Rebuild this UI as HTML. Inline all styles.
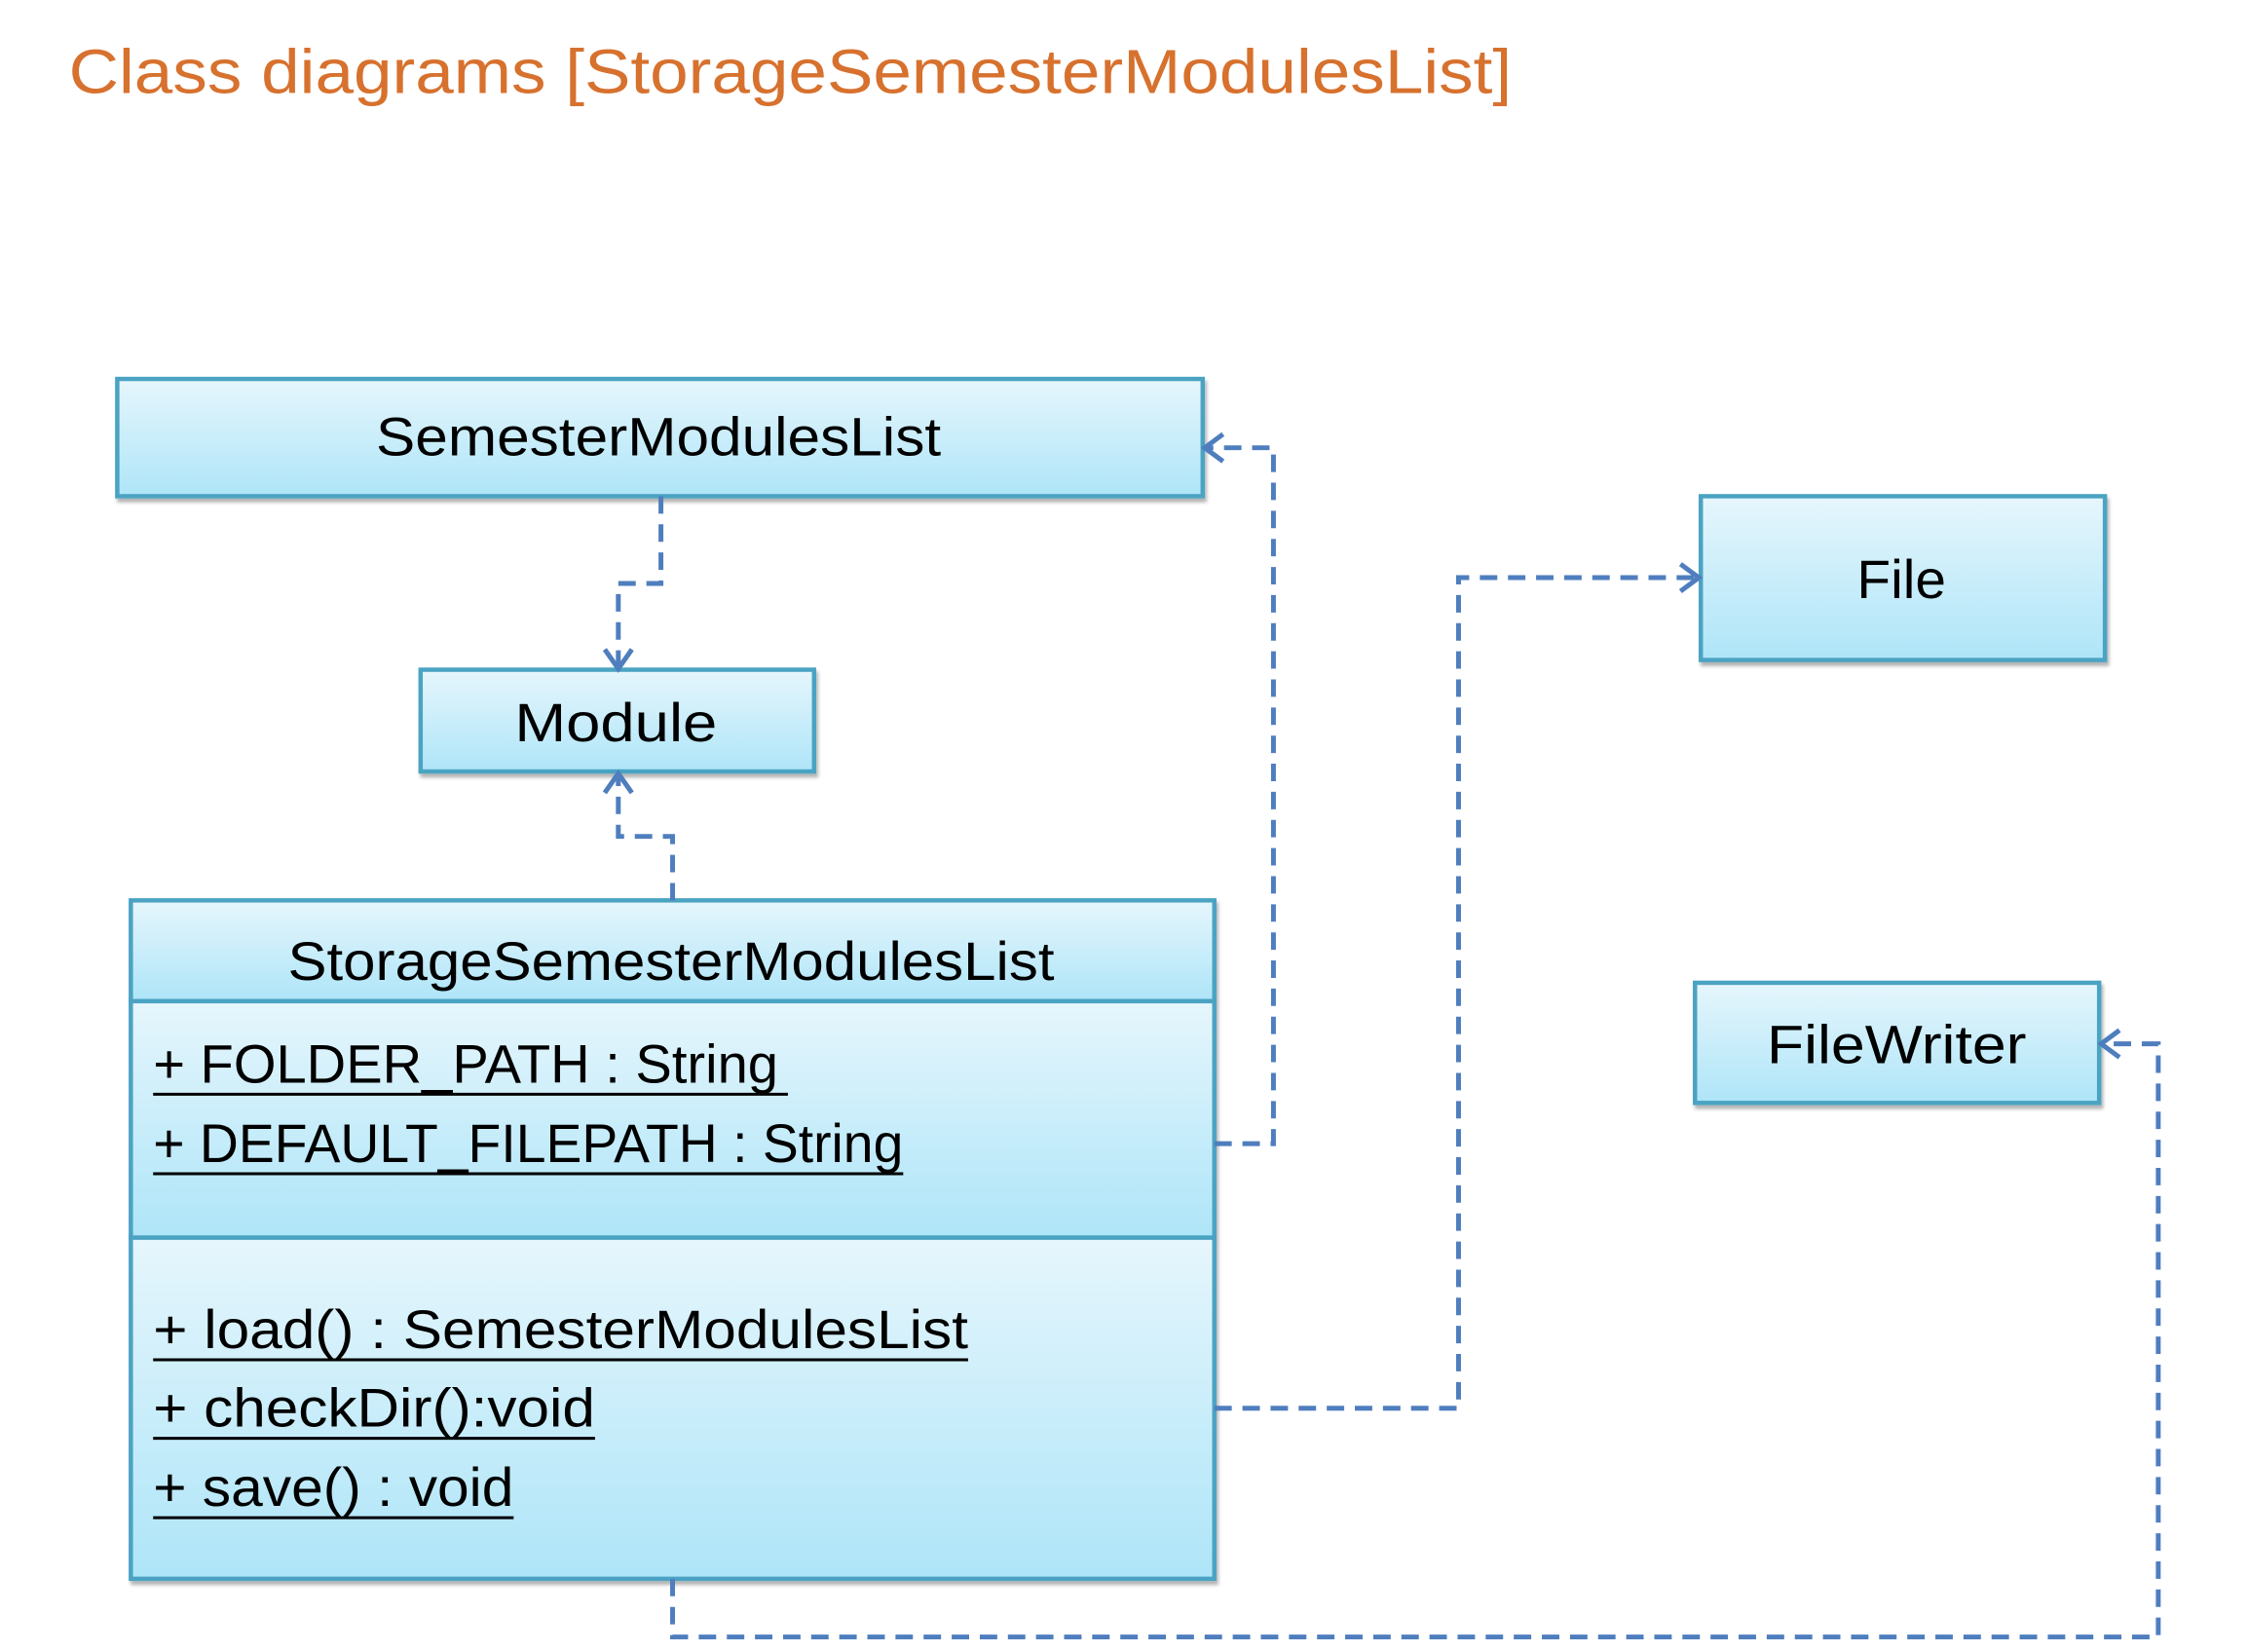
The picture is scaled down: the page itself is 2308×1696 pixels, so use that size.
<!DOCTYPE html>
<html><head><meta charset="utf-8"><style>html,body{margin:0;padding:0;background:#fff}svg{display:block}</style></head><body>
<svg width="2308" height="1696" viewBox="0 0 2308 1696" xmlns="http://www.w3.org/2000/svg" font-family="Liberation Sans, sans-serif">
<defs>
<linearGradient id="g" x1="0" y1="0" x2="0" y2="1"><stop offset="0" stop-color="#E6F6FC"/><stop offset="1" stop-color="#AEE5F8"/></linearGradient>
<filter id="s" x="-5%" y="-5%" width="110%" height="115%"><feDropShadow dx="2" dy="4" stdDeviation="2" flood-color="#000" flood-opacity="0.3"/></filter>
</defs>
<g transform="scale(0.995)">
<text x="71" y="96" font-size="64" fill="#D7712E" textLength="1489" lengthAdjust="spacingAndGlyphs">Class diagrams [StorageSemesterModulesList]</text>
<g stroke="#4BA3C3" stroke-width="4.5" fill="url(#g)" filter="url(#s)">
<rect x="121" y="391" width="1120" height="121"/>
<rect x="434" y="691" width="406" height="105"/>
<rect x="135" y="929" width="1118" height="104"/>
<rect x="135" y="1033" width="1118" height="244"/>
<rect x="135" y="1277" width="1118" height="352"/>
<rect x="1755" y="512" width="417" height="169"/>
<rect x="1749" y="1014" width="417" height="124"/>
</g>
<g font-size="56" fill="#000">
<text x="388" y="470" textLength="583" lengthAdjust="spacingAndGlyphs">SemesterModulesList</text>
<text x="531" y="765" textLength="209" lengthAdjust="spacingAndGlyphs">Module</text>
<text x="297" y="1011" textLength="791" lengthAdjust="spacingAndGlyphs">StorageSemesterModulesList</text>
<text x="1916" y="617" textLength="92" lengthAdjust="spacingAndGlyphs">File</text>
<text x="1823" y="1097" textLength="268" lengthAdjust="spacingAndGlyphs">FileWriter</text>
<text x="158" y="1117" textLength="645" lengthAdjust="spacingAndGlyphs">+ FOLDER_PATH : String</text>
<text x="158" y="1199" textLength="774" lengthAdjust="spacingAndGlyphs">+ DEFAULT_FILEPATH : String</text>
<text x="158" y="1391" textLength="841" lengthAdjust="spacingAndGlyphs">+ load() : SemesterModulesList</text>
<text x="158" y="1472" textLength="456" lengthAdjust="spacingAndGlyphs">+ checkDir():void</text>
<text x="158" y="1554" textLength="372" lengthAdjust="spacingAndGlyphs">+ save() : void</text>
</g>
<g stroke="#000" stroke-width="3">
<line x1="158" y1="1129" x2="813" y2="1129"/>
<line x1="158" y1="1211" x2="932" y2="1211"/>
<line x1="158" y1="1403" x2="999" y2="1403"/>
<line x1="158" y1="1484" x2="614" y2="1484"/>
<line x1="158" y1="1566" x2="530" y2="1566"/>
</g>
<g stroke="#4F7EBE" stroke-width="5" fill="none" stroke-dasharray="18 11">
<polyline points="682,512 682,602 638,602 638,689"/>
<polyline points="694,929 694,863 638,863 638,798"/>
<polyline points="1253,1180 1314,1180 1314,462 1243,462"/>
<polyline points="1253,1453 1505,1453 1505,596 1753,596"/>
<polyline points="694,1629 694,1689 2227,1689 2227,1077 2168,1077"/>
</g>
<g stroke="#4F7EBE" stroke-width="5" fill="none">
<polyline points="624,670 638,690 652,670"/>
<polyline points="624,818 638,798 652,818"/>
<polyline points="1262,448 1243,462 1262,476"/>
<polyline points="1734,582 1753,596 1734,610"/>
<polyline points="2187,1063 2168,1077 2187,1091"/>
</g>
</g>
</svg>
</body></html>
